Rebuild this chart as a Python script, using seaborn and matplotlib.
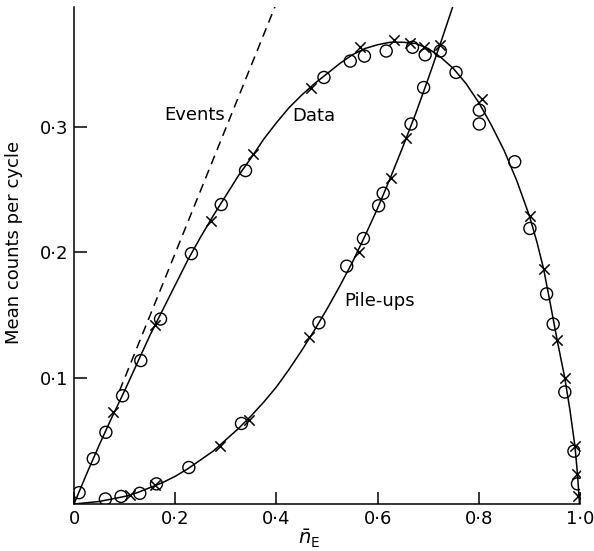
import matplotlib
matplotlib.use("Agg")
import matplotlib.pyplot as plt
import seaborn as sns
import pandas as pd

# smooth curves
data_curve_x = [0, 0.025, 0.05, 0.075, 0.1, 0.125, 0.15, 0.175, 0.2, 0.225, 0.25, 0.275,
                0.3, 0.325, 0.35, 0.375, 0.4, 0.425, 0.45, 0.475, 0.5, 0.525, 0.55, 0.575,
                0.6, 0.625, 0.65, 0.675, 0.7, 0.725, 0.75, 0.775, 0.8, 0.825, 0.85, 0.875,
                0.9, 0.915, 0.928, 0.94, 0.955, 0.97, 0.98, 0.99, 0.995, 0.999]
data_curve_y = [0, 0.024, 0.047, 0.069, 0.090, 0.112, 0.134, 0.154, 0.174, 0.194, 0.212,
                0.229, 0.245, 0.261, 0.275, 0.290, 0.303, 0.315, 0.325, 0.334, 0.342, 0.350,
                0.357, 0.362, 0.365, 0.367, 0.367, 0.366, 0.362, 0.355, 0.346, 0.334, 0.319,
                0.301, 0.281, 0.257, 0.229, 0.208, 0.187, 0.162, 0.130, 0.100, 0.075, 0.046,
                0.024, 0.0]
pile_curve_x = [0, 0.05, 0.1, 0.125, 0.15, 0.175, 0.2, 0.225, 0.25, 0.275, 0.3, 0.325, 0.35,
                0.375, 0.4, 0.425, 0.45, 0.475, 0.5, 0.525, 0.55, 0.575, 0.6, 0.625, 0.65,
                0.675, 0.7, 0.725, 0.75]
pile_curve_y = [0, 0.002, 0.006, 0.009, 0.013, 0.017, 0.022, 0.028, 0.035, 0.042, 0.051,
                0.060, 0.070, 0.081, 0.093, 0.107, 0.122, 0.138, 0.155, 0.173, 0.192, 0.213,
                0.235, 0.259, 0.284, 0.310, 0.338, 0.367, 0.397]
events_x = [0.09, 0.40]
events_y = [0.09, 0.398]

# measured points: circles and crosses
data_circ_x = [0.010, 0.038, 0.063, 0.096, 0.132, 0.171, 0.232, 0.291, 0.339, 0.494, 0.546,
               0.574, 0.617, 0.669, 0.694, 0.755, 0.801, 0.801, 0.871, 0.901, 0.934, 0.947,
               0.970, 0.988, 0.995]
data_circ_y = [0.009, 0.036, 0.057, 0.086, 0.114, 0.147, 0.199, 0.238, 0.265, 0.339, 0.352,
               0.356, 0.360, 0.363, 0.357, 0.343, 0.313, 0.302, 0.272, 0.219, 0.167, 0.143,
               0.089, 0.042, 0.016]
data_cross_x = [0.078, 0.160, 0.270, 0.354, 0.469, 0.566, 0.632, 0.664, 0.691, 0.807, 0.901,
                0.928, 0.955, 0.970, 0.990, 0.995, 0.997]
data_cross_y = [0.073, 0.142, 0.225, 0.278, 0.331, 0.363, 0.369, 0.366, 0.363, 0.322, 0.229,
                0.187, 0.130, 0.100, 0.046, 0.024, 0.006]
pile_circ_x = [0.062, 0.093, 0.130, 0.163, 0.227, 0.331, 0.484, 0.539, 0.572, 0.602, 0.611,
               0.666, 0.691, 0.724]
pile_circ_y = [0.004, 0.006, 0.0085, 0.016, 0.029, 0.064, 0.144, 0.189, 0.211, 0.237, 0.247,
               0.302, 0.331, 0.360]
pile_cross_x = [0.110, 0.160, 0.288, 0.345, 0.465, 0.563, 0.627, 0.657, 0.723]
pile_cross_y = [0.007, 0.015, 0.046, 0.067, 0.133, 0.200, 0.259, 0.291, 0.365]

x_ticks = [0, 0.2, 0.4, 0.6, 0.8, 1.0]
x_labels = ["0", "0·2", "0·4", "0·6", "0·8", "1·0"]
y_ticks = [0.1, 0.2, 0.3]
y_labels = ["0·1", "0·2", "0·3"]

sns.set_style("ticks")
plt.rcParams['font.family'] = ['DejaVu Sans']
plt.rcParams.update({'text.color': 'black', 'axes.labelcolor': 'black',
                     'xtick.color': 'black', 'ytick.color': 'black',
                     'axes.edgecolor': 'black'})

fig = plt.figure(figsize=(5.94, 5.51), dpi=100)
ax = fig.add_axes([74 / 594, 47 / 551, 506 / 594, 497 / 551])

line_kw = dict(color='black', linewidth=1.1, estimator=None, sort=False, ax=ax)
sns.lineplot(x=data_curve_x, y=data_curve_y, **line_kw)
sns.lineplot(x=pile_curve_x, y=pile_curve_y, **line_kw)
sns.lineplot(x=events_x, y=events_y, dashes=False, linestyle=(0, (6, 4)), **line_kw)

circ = pd.DataFrame({'x': data_circ_x + pile_circ_x, 'y': data_circ_y + pile_circ_y})
cross = pd.DataFrame({'x': data_cross_x + pile_cross_x, 'y': data_cross_y + pile_cross_y})
sns.scatterplot(data=circ, x='x', y='y', marker='o', s=75, facecolor='none',
                edgecolor='black', linewidth=1.0, ax=ax, zorder=3)
sns.scatterplot(data=cross, x='x', y='y', marker='x', s=55, color='black',
                linewidth=1.1, ax=ax, zorder=3)

ax.text(0.178, 0.309, "Events", fontsize=13, va='center', ha='left')
ax.text(0.431, 0.308, "Data", fontsize=13, va='center', ha='left')
ax.text(0.535, 0.161, "Pile-ups", fontsize=13, va='center', ha='left')

ax.set_xlim(0, 1.0)
ax.set_ylim(0, 0.395)
ax.set_xticks(x_ticks)
ax.set_xticklabels(x_labels)
ax.set_yticks(y_ticks)
ax.set_yticklabels(y_labels)
ax.tick_params(direction='in', length=9, width=1.1, labelsize=13, pad=4)
ax.set_xlabel(r"$\bar{n}_{\mathrm{E}}$", fontsize=14)
ax.xaxis.set_label_coords(0.465, -0.048)
ax.set_ylabel("Mean counts per cycle", fontsize=13)
ax.yaxis.set_label_coords(-0.10, 0.527)
sns.despine(ax=ax)
for s in ['left', 'bottom']:
    ax.spines[s].set_linewidth(1.1)

fig.savefig("out.png", dpi=100)
